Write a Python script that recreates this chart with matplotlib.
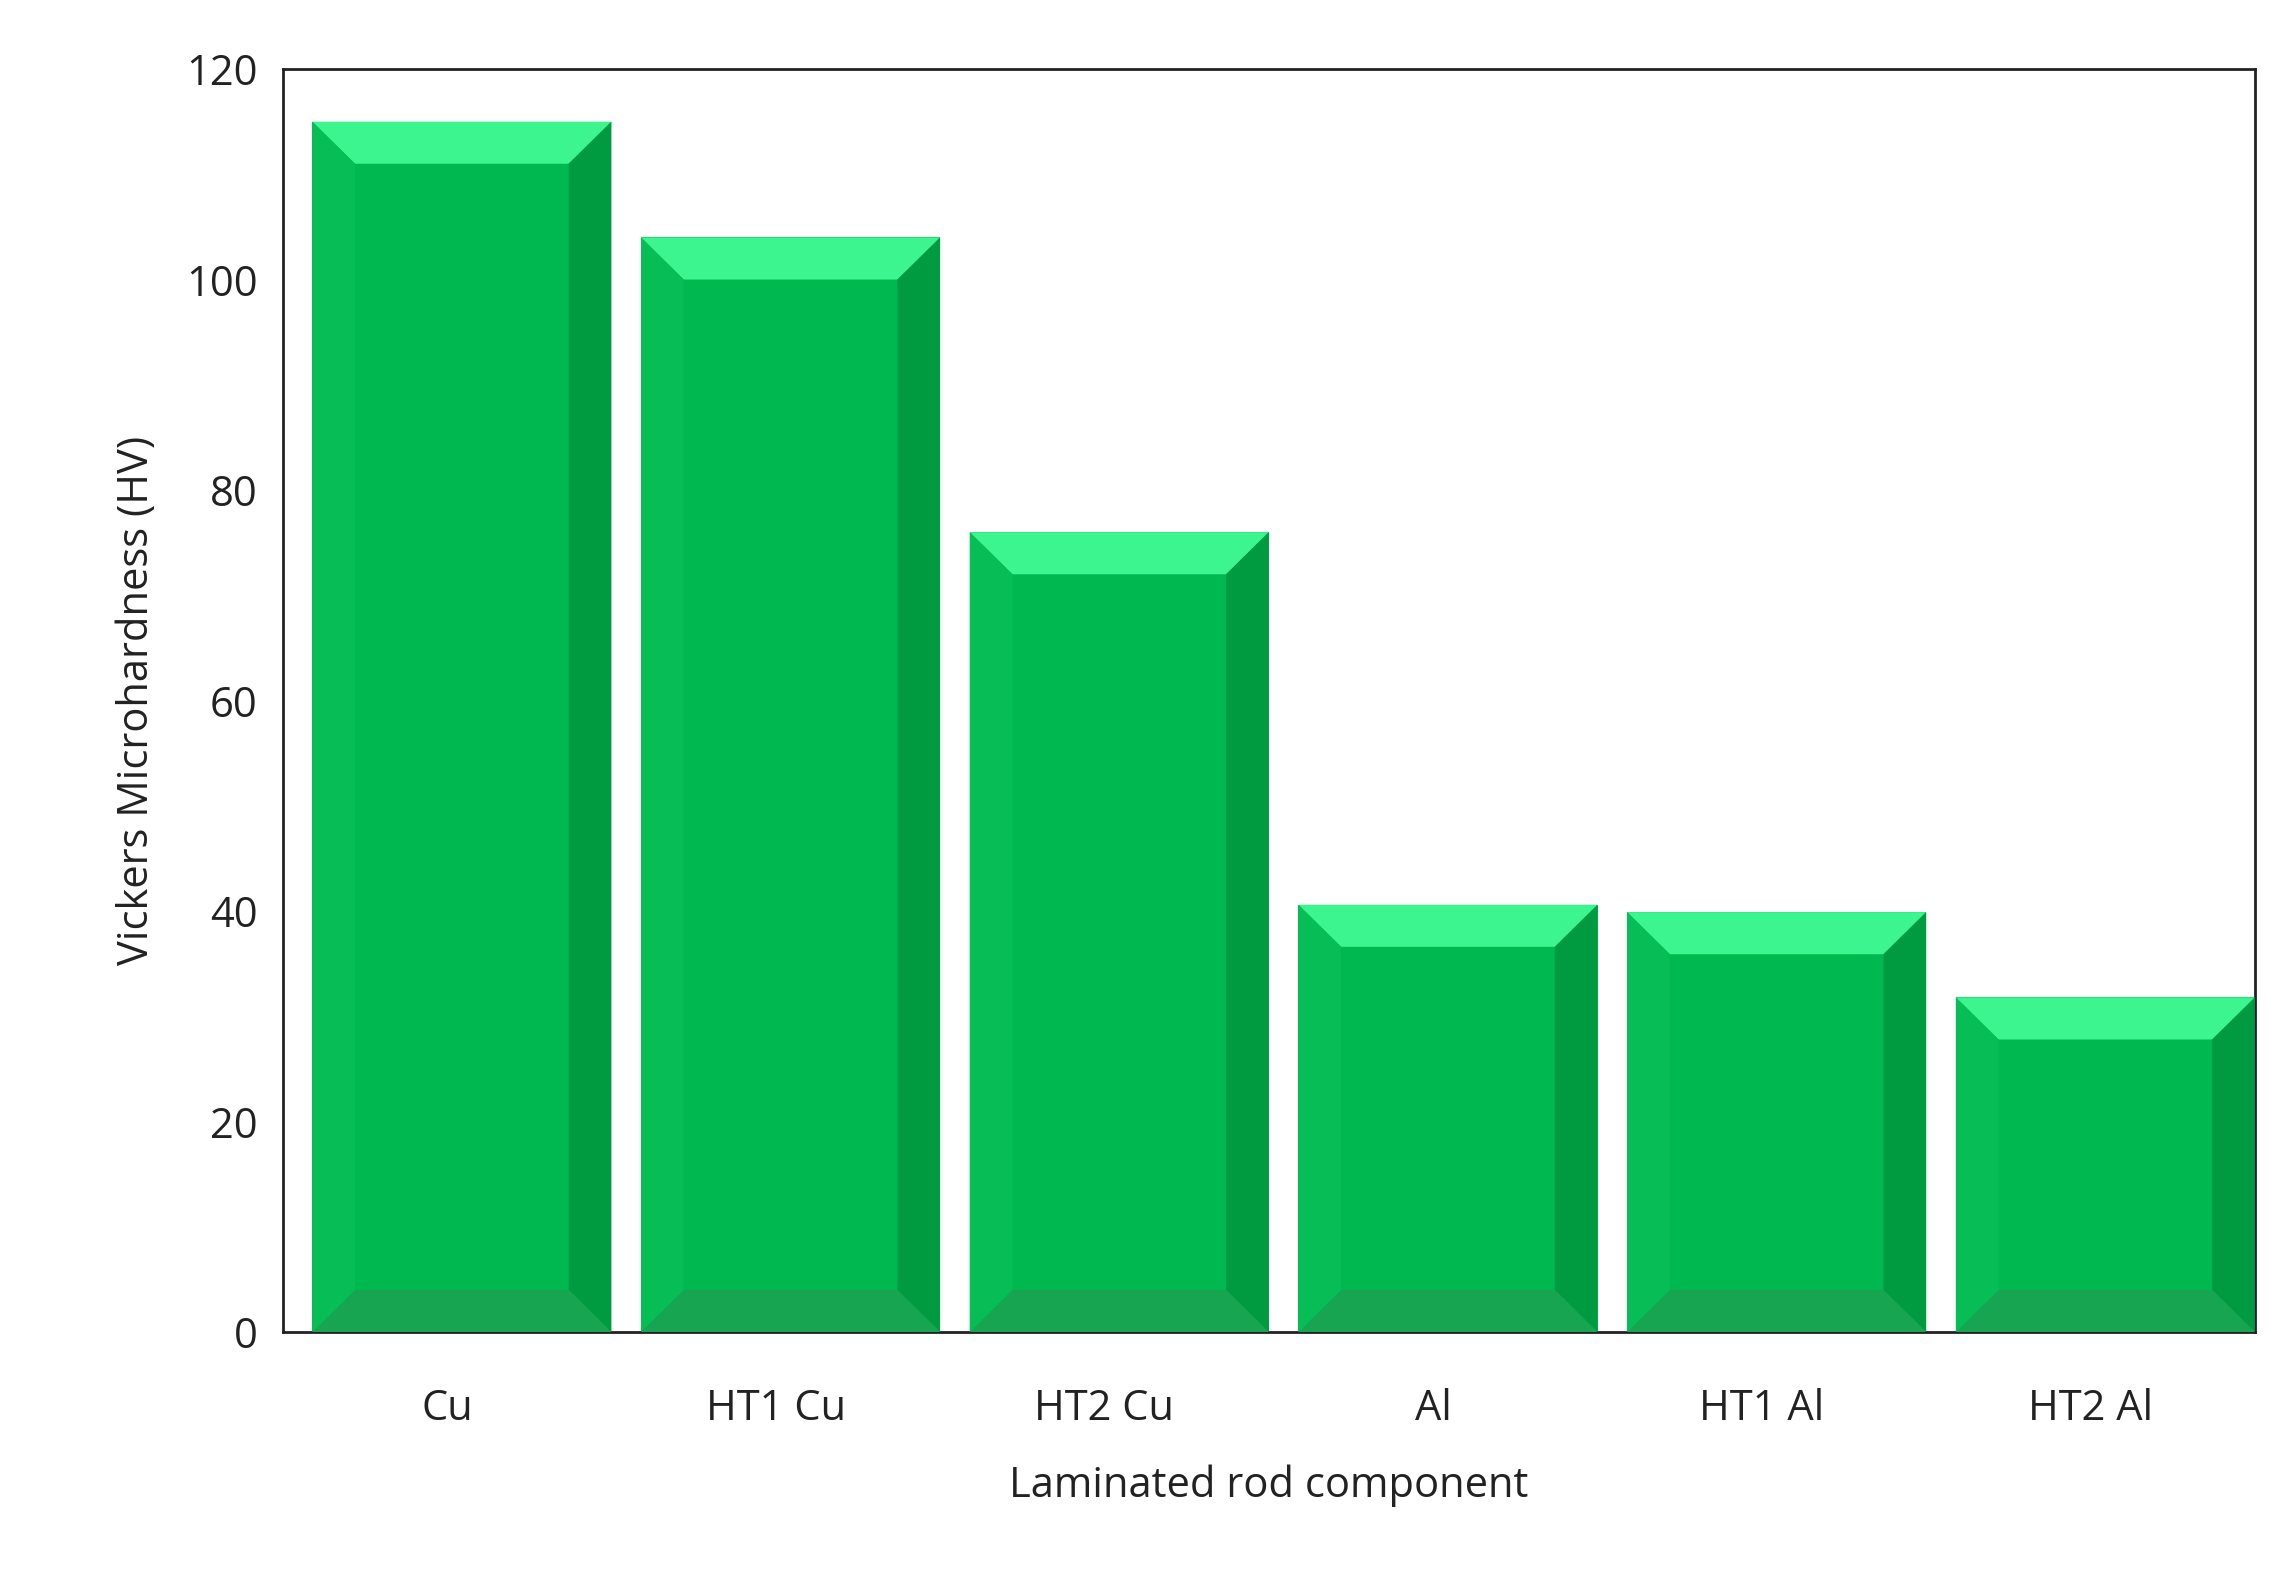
import matplotlib
matplotlib.use("Agg")
import matplotlib.pyplot as plt
from matplotlib.patches import Polygon

categories = ["Cu", "HT1 Cu", "HT2 Cu", "Al", "HT1 Al", "HT2 Al"]
values = [115, 104, 76, 40.6, 39.9, 31.8]

plt.rcParams['font.family'] = ['Open Sans', 'DejaVu Sans']
fig = plt.figure(figsize=(22.8, 15.69), dpi=100)
ax = fig.add_axes([0.124, 0.151, 0.865, 0.805])

width = 0.91
offset = 0.045
side = 0.13
band = 4.0
main = "#00B850"
for i, v in enumerate(values):
    x0 = i + offset - width / 2
    x1 = x0 + width
    ax.bar(i + offset, v, width=width, color=main, zorder=2)
    # top bevel
    ax.add_patch(Polygon([(x0, v), (x1, v), (x1 - side, v - band), (x0 + side, v - band)],
                         closed=True, color="#3CF58F", lw=0, zorder=3))
    # right bevel
    ax.add_patch(Polygon([(x1, v), (x1, 0), (x1 - side, band), (x1 - side, v - band)],
                         closed=True, color="#009A40", lw=0, zorder=3))
    # bottom bevel
    ax.add_patch(Polygon([(x0, 0), (x1, 0), (x1 - side, band), (x0 + side, band)],
                         closed=True, color="#17A552", lw=0, zorder=3))
    # left bevel
    ax.add_patch(Polygon([(x0, 0), (x0, v), (x0 + side, v - band), (x0 + side, band)],
                         closed=True, color="#06BD56", lw=0, zorder=3))

ax.set_xlim(-0.5, 5.5)
ax.set_ylim(0, 120)
ax.set_yticks(range(0, 121, 20))
ax.set_xticks(range(len(categories)))
ax.set_xticklabels(categories)
ax.tick_params(axis='both', labelsize=30, length=0, colors="#222222")
ax.tick_params(axis='x', pad=40)
ax.tick_params(axis='y', pad=18)
for s in ax.spines.values():
    s.set_linewidth(2)
    s.set_color("#222222")
ax.set_xlabel("Laminated rod component", fontsize=30, labelpad=25, color="#222222")
ax.set_ylabel("Vickers Microhardness (HV)", fontsize=30, labelpad=20, color="#222222")
fig.savefig("out.png", dpi=100)
